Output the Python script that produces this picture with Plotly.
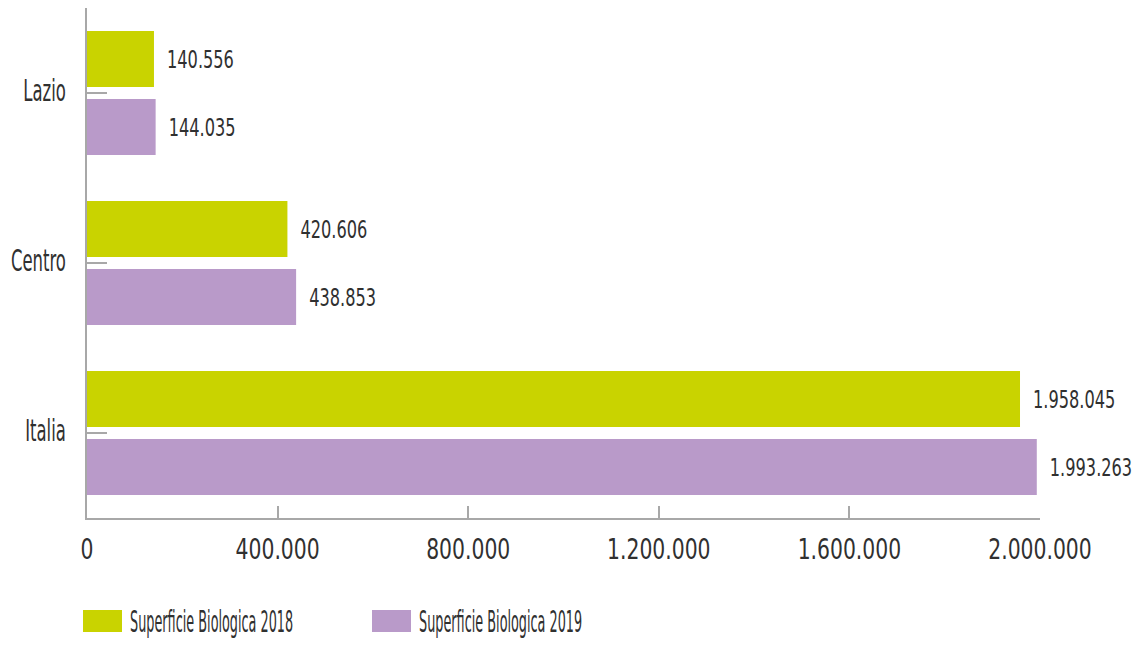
import plotly.graph_objects as go

categories = ["Lazio", "Centro", "Italia"]
values_2018 = [140556, 420606, 1958045]
values_2019 = [144035, 438853, 1993263]
series_names = ["Superficie Biologica 2018", "Superficie Biologica 2019"]
tick_vals = [0, 400000, 800000, 1200000, 1600000, 2000000]
tick_text = ["0", "400.000", "800.000", "1.200.000", "1.600.000", "2.000.000"]

GREEN = "#c9d300"
PURPLE = "#b99ac9"
TEXT = "#303030"
AXIS = "#a8a8a8"
FONT = "DejaVu Sans Condensed, DejaVu Sans, sans-serif"

def it_fmt(v):
    return f"{v:,}".replace(",", ".")

W, H = 1148, 647
L, R, T, B = 87, 108, 8, 129
pw, ph = W - L - R, H - T - B

def px_x(x):
    return (x - L) / pw

def px_y(y):
    return (H - B - y) / ph

fig = go.Figure()
for vals, name, col in [(values_2018, series_names[0], GREEN),
                        (values_2019, series_names[1], PURPLE)]:
    fig.add_trace(go.Bar(
        y=categories, x=vals, orientation="h", name=name,
        marker=dict(color=col, line=dict(width=0)),
        text=[it_fmt(v) for v in vals], textposition="outside",
        textfont=dict(family=FONT, size=25, color=TEXT), cliponaxis=False,
    ))

fig.update_layout(
    width=W, height=H,
    margin=dict(l=L, r=R, t=T, b=B, autoexpand=False),
    paper_bgcolor="white", plot_bgcolor="white",
    barmode="group", bargap=0.2, bargroupgap=0.176,
    showlegend=False,
    font=dict(family=FONT, color=TEXT),
    uniformtext=dict(mode=False),
)
fig.update_xaxes(
    range=[0, 2000000], tickvals=tick_vals, ticktext=tick_text,
    showgrid=False, zeroline=False, showline=True, linecolor=AXIS, linewidth=2,
    ticks="inside", ticklen=12, tickcolor=AXIS, tickwidth=1.5,
    tickfont=dict(family=FONT, size=29, color=TEXT), ticklabelstandoff=4,
)
fig.update_yaxes(
    range=[2.5, -0.5], showgrid=False, zeroline=False,
    showline=True, linecolor=AXIS, linewidth=2,
    ticks="inside", ticklen=20, tickcolor=AXIS, tickwidth=1.5,
    tickfont=dict(family=FONT, size=31, color=TEXT), ticklabelstandoff=13,
    ticklabelshift=3,
)

# custom legend with wide swatches
legend_items = [(83, 122, GREEN, 128), (372, 411, PURPLE, 417)]
for (x0, x1, col, tx), name in zip(legend_items, series_names):
    fig.add_shape(type="rect", xref="paper", yref="paper",
                  x0=px_x(x0), x1=px_x(x1), y0=px_y(632), y1=px_y(610),
                  fillcolor=col, line=dict(width=0))
    fig.add_annotation(xref="paper", yref="paper", x=px_x(tx), y=px_y(621),
                       xanchor="left", yanchor="middle", showarrow=False,
                       text=name, font=dict(family=FONT, size=31, color=TEXT))

# condense the lettering horizontally to imitate the narrow typeface
post = """
var gd = document.getElementById('{plot_id}');
function squeeze(){
  gd.querySelectorAll('text').forEach(function(t){
    if (t.getAttribute('data-sq') || !t.textContent) return;
    var bb = t.getBBox();
    var s = 0.46, ax = bb.x, dx = 0;
    if (t.closest('.ytick')) { s = 0.59; ax = bb.x + bb.width; }
    else if (t.closest('.xtick')) { s = 0.78; ax = bb.x + bb.width / 2; }
    else if (t.classList.contains('bartext')) { s = 0.72; ax = bb.x; dx = 10; }
    var tr = t.getAttribute('transform') || '';
    t.setAttribute('transform', tr + ' translate(' + (ax + dx) + ',0) scale(' + s + ',1) translate(' + (-ax) + ',0)');
    t.setAttribute('data-sq', '1');
  });
}
squeeze();
"""
fig.write_html("out.html", post_script=post)
